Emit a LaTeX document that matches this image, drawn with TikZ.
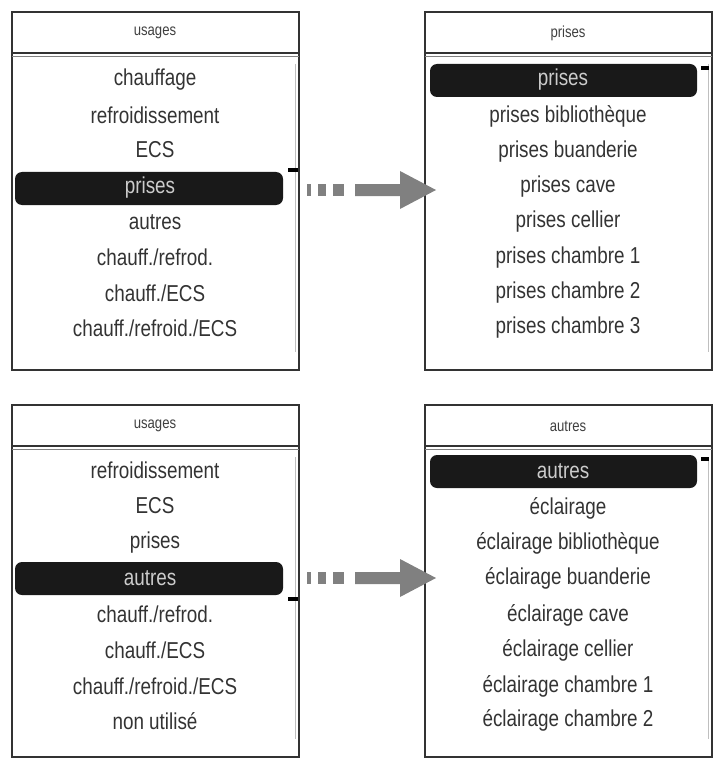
\documentclass[tikz,border=0pt]{standalone}
\usepackage{fontspec}
\setmainfont{Liberation Sans}
\newfontfamily\narrowf[FakeStretch=0.82]{Liberation Sans}
\begin{document}
\begin{tikzpicture}[x=1pt,y=-1pt,
  panel/.style={draw=black!80,line width=1.5pt},
  item/.style={font=\narrowf\fontsize{23}{25}\selectfont,text=black!80,inner sep=0pt},
  ttl/.style={font=\narrowf\fontsize{16}{18}\selectfont,text=black!75,inner sep=0pt},
  sel/.style={fill=black!90,rounded corners=7pt},
  selt/.style={font=\narrowf\fontsize{23}{25}\selectfont,text=black!20,inner sep=0pt},
  arr/.style={fill=black!50,draw=none}]
\useasboundingbox (0,0) rectangle (721,770);
% panels
\foreach \px/\py/\pb in {12/12/370,425/12/370,12/405/757,425/405/757}{
  \draw[panel] (\px,\py) rectangle ++(287,\pb-\py);
  \draw[black!80,line width=1.2pt] (\px,\py+41) -- ++(287,0);
  \draw[black!50,line width=0.6pt] (\px,\py+44) -- ++(287,0);
  \draw[black!25,line width=0.8pt] (\px+283,\py+52) -- (\px+283,\pb-18);
}
% top-left
\node[ttl] (t1) at (155,33) {usages};
\fill[sel] (15,172) rectangle (283,205);
\fill (288,168) rectangle (298,172);
\node[item] (a1) at (155,80) {chauffage};
\node[item] (a2) at (155,115) {refroidissement};
\node[item] (a3) at (155,150) {ECS};
\node[selt] (a4) at (150,188) {prises};
\node[item] (a5) at (155,222) {autres};
\node[item] (a6) at (155,257) {chauff./refrod.};
\node[item] (a7) at (155,293) {chauff./ECS};
\node[item] (a8) at (155,328) {chauff./refroid./ECS};
% top-right
\node[ttl] (t2) at (568,33) {prises};
\fill[sel] (430,64) rectangle (697,97);
\fill (701,66) rectangle (709,70);
\node[selt] (b1) at (563,80) {prises};
\node[item] (b2) at (568,116) {prises bibliothèque};
\node[item] (b3) at (568,152) {prises buanderie};
\node[item] (b4) at (568,187) {prises cave};
\node[item] (b5) at (568,222) {prises cellier};
\node[item] (b6) at (568,258) {prises chambre 1};
\node[item] (b7) at (568,293) {prises chambre 2};
\node[item] (b8) at (568,328) {prises chambre 3};
% bottom-left
\node[ttl] (t3) at (155,426) {usages};
\fill[sel] (15,562) rectangle (283,595);
\fill (288,597) rectangle (298,601);
\node[item] (c1) at (155,470) {refroidissement};
\node[item] (c2) at (155,506) {ECS};
\node[item] (c3) at (155,543) {prises};
\node[selt] (c4) at (150,578) {autres};
\node[item] (c5) at (155,614) {chauff./refrod.};
\node[item] (c6) at (155,650) {chauff./ECS};
\node[item] (c7) at (155,686) {chauff./refroid./ECS};
\node[item] (c8) at (155,721) {non utilisé};
% bottom-right
\node[ttl] (t4) at (568,426) {autres};
\fill[sel] (430,455) rectangle (697,488);
\fill (701,457) rectangle (709,461);
\node[selt] (d1) at (563,471) {autres};
\node[item] (d2) at (568,508) {éclairage};
\node[item] (d3) at (568,543) {éclairage bibliothèque};
\node[item] (d4) at (568,578) {éclairage buanderie};
\node[item] (d5) at (568,615) {éclairage cave};
\node[item] (d6) at (568,650) {éclairage cellier};
\node[item] (d7) at (568,686) {éclairage chambre 1};
\node[item] (d8) at (568,720) {éclairage chambre 2};
% arrows
\foreach \ay in {190,578}{
  \fill[arr] (307,\ay-6) rectangle (311,\ay+6);
  \fill[arr] (318,\ay-6) rectangle (326,\ay+6);
  \fill[arr] (333,\ay-6) rectangle (344,\ay+6);
  \fill[arr] (355,\ay-6) -- (400,\ay-6) -- (400,\ay-19) -- (436,\ay) -- (400,\ay+19) -- (400,\ay+6) -- (355,\ay+6) -- cycle;
}
\end{tikzpicture}
\end{document}
